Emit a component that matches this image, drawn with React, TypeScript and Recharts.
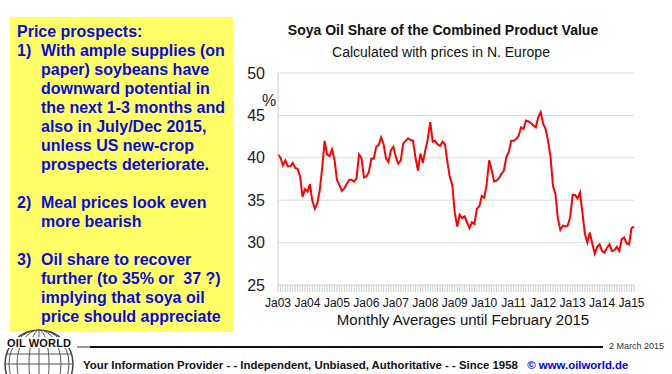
import { CartesianGrid, Line, LineChart, XAxis, YAxis } from "recharts";

// Soya oil share of combined product value, monthly Jan 2003 - Feb 2015 (%)
const yearLabels = [
  "Ja03", "Ja04", "Ja05", "Ja06", "Ja07", "Ja08", "Ja09",
  "Ja10", "Ja11", "Ja12", "Ja13", "Ja14", "Ja15",
];

const shareValues = [
  // 2003
  40.4, 40.0, 39.1, 39.7, 39.0, 39.0, 39.4, 38.8, 38.7, 37.8, 35.4, 36.3,
  // 2004
  36.0, 36.9, 34.9, 34.0, 34.6, 36.2, 38.8, 42.0, 40.4, 40.2, 41.0, 39.8,
  // 2005
  37.4, 36.8, 36.1, 36.4, 36.9, 37.4, 37.4, 37.2, 37.6, 40.4, 40.0, 37.7,
  // 2006
  37.8, 38.3, 39.9, 39.9, 41.3, 41.5, 42.4, 41.6, 39.9, 39.5, 40.9, 41.3,
  // 2007
  40.1, 39.3, 39.7, 41.7, 42.0, 42.3, 42.1, 42.0, 40.0, 38.5, 40.5, 39.4,
  // 2008
  40.9, 42.2, 44.2, 41.9, 42.0, 41.6, 41.4, 41.9, 41.6, 39.5, 37.7, 36.8,
  // 2009
  33.5, 31.9, 33.3, 32.9, 33.1, 32.4, 31.7, 32.4, 32.2, 34.0, 34.3, 35.5,
  // 2010
  35.3, 36.9, 39.7, 38.6, 37.2, 37.3, 37.6, 38.1, 38.5, 40.1, 40.7, 42.0,
  // 2011
  42.0, 42.2, 42.6, 43.6, 43.4, 44.4, 44.3, 44.1, 43.8, 43.6, 44.8, 45.4,
  // 2012
  44.0, 43.4, 42.0, 40.1, 36.7, 35.7, 32.8, 31.5, 32.0, 31.9, 32.0, 33.0,
  // 2013
  35.6, 35.6, 35.2, 35.9, 33.5, 31.0, 30.0, 31.2, 29.9, 28.7, 29.5, 29.8,
  // 2014
  29.0, 28.8, 29.4, 29.8, 29.0, 29.1, 29.5, 29.0, 30.4, 30.6, 29.9, 29.8,
  // 2015
  31.7, 31.9,
];

const yTicks = [25, 30, 35, 40, 45, 50];

const prospectLines: { num?: string; text: string }[] = [
  { text: "Price prospects:" },
  { num: "1)", text: "With ample supplies (on" },
  { text: "paper) soybeans have" },
  { text: "downward potential in" },
  { text: "the next 1-3 months and" },
  { text: "also in July/Dec 2015," },
  { text: "unless US new-crop" },
  { text: "prospects deteriorate." },
  { text: "" },
  { num: "2)", text: "Meal prices look even" },
  { text: "more bearish" },
  { text: "" },
  { num: "3)", text: "Oil share to recover" },
  { text: "further (to 35% or  37 ?)" },
  { text: "implying that soya oil" },
  { text: "price should appreciate" },
];

const FONT = "'Liberation Sans', Arial, sans-serif";

const chartData = shareValues.map((v, i) => ({ m: i, share: v }));
const monthTicks = chartData.map((d) => d.m);

function YearTick(props: any) {
  const { x, y, payload } = props;
  const m = payload.value;
  if (m % 12 !== 0) return <g />;
  return (
    <text
      x={x}
      y={y}
      dy={13}
      textAnchor="middle"
      fontSize={12}
      fontFamily={FONT}
      fill="#111"
    >
      {yearLabels[m / 12]}
    </text>
  );
}

function Logo() {
  const cx = 39;
  const cy = 364;
  const r = 34;
  return (
    <svg
      width={672}
      height={374}
      style={{ position: "absolute", left: 0, top: 0, pointerEvents: "none" }}
    >
      <defs>
        <clipPath id="globeClip">
          <circle cx={cx} cy={cy} r={r} />
        </clipPath>
      </defs>
      <circle cx={cx} cy={cy} r={r} fill="#fff" stroke="#444" strokeWidth={1.5} />
      <g clipPath="url(#globeClip)" stroke="#555" strokeWidth={1} fill="none">
        <ellipse cx={cx} cy={cy} rx={10} ry={r} />
        <ellipse cx={cx} cy={cy} rx={22} ry={r} />
        <ellipse cx={cx} cy={cy} rx={30} ry={r} />
        <line x1={cx} y1={cy - r} x2={cx} y2={cy + r} />
        <line x1={cx - r} y1={cy} x2={cx + r} y2={cy} />
        <line x1={cx - r} y1={cy - 10} x2={cx + r} y2={cy - 10} />
        <line x1={cx - r} y1={cy - 22} x2={cx + r} y2={cy - 22} />
      </g>
      <rect x={5} y={337} width={69} height={11} fill="#fff" />
      <text
        x={39}
        y={347}
        textAnchor="middle"
        fontSize={11}
        fontWeight="bold"
        fontFamily={FONT}
        textLength={64}
        fill="#111"
      >
        OIL WORLD
      </text>
      <line x1={77} y1={347} x2={90} y2={347} stroke="#999" strokeWidth={2} />
      <line x1={90} y1={347} x2={603} y2={347} stroke="#111" strokeWidth={2} />
    </svg>
  );
}

export default function App() {
  return (
    <div
      style={{
        position: "fixed",
        left: 0,
        top: 0,
        width: 672,
        height: 374,
        background: "#fff",
        fontFamily: FONT,
        overflow: "hidden",
      }}
    >
      <div style={{ position: "absolute", left: 0, top: 0 }}>
        <LineChart
          width={672}
          height={374}
          data={chartData}
          margin={{ top: 73, right: 38, left: 238, bottom: 59 }}
        >
          <CartesianGrid vertical={false} stroke="#dcdcdc" />
          <XAxis
            dataKey="m"
            type="number"
            domain={[0, 145]}
            ticks={monthTicks}
            interval={0}
            height={30}
            tick={<YearTick />}
            tickSize={7}
            tickLine={{ stroke: "#cfcfcf" }}
            axisLine={{ stroke: "#dcdcdc" }}
          />
          <YAxis
            type="number"
            domain={[25, 50]}
            ticks={yTicks}
            width={40}
            tickLine={false}
            tickMargin={7}
            axisLine={{ stroke: "#d0d0d0" }}
            tick={{ fontSize: 16, fill: "#222", fontFamily: FONT }}
          />
          <Line
            type="linear"
            dataKey="share"
            stroke="#ff0000"
            strokeWidth={2}
            dot={false}
            isAnimationActive={false}
          />
        </LineChart>
      </div>

      <div
        style={{
          position: "absolute",
          left: 262,
          top: 92,
          fontSize: 16,
          color: "#222",
        }}
      >
        %
      </div>

      <div
        style={{
          position: "absolute",
          left: 240,
          width: 406,
          top: 22,
          textAlign: "center",
          fontSize: 14,
          fontWeight: "bold",
          color: "#111",
        }}
      >
        Soya Oil Share of the Combined Product Value
      </div>
      <div
        style={{
          position: "absolute",
          left: 240,
          width: 402,
          top: 44,
          textAlign: "center",
          fontSize: 14,
          color: "#111",
        }}
      >
        Calculated with prices in N. Europe
      </div>
      <div
        style={{
          position: "absolute",
          left: 260,
          width: 406,
          top: 311,
          textAlign: "center",
          fontSize: 15,
          color: "#111",
        }}
      >
        Monthly Averages until February 2015
      </div>

      <div
        style={{
          position: "absolute",
          left: 10,
          top: 17,
          width: 223,
          height: 315,
          background: "#ffff66",
        }}
      >
        {prospectLines.map((l, i) => (
          <div
            key={i}
            style={{
              position: "absolute",
              top: 5 + i * 19,
              left: l.num || i === 0 ? 7 : 31,
              height: 19,
              lineHeight: "19px",
              fontSize: 16,
              fontWeight: "bold",
              color: "#0a0adf",
              whiteSpace: "pre",
            }}
          >
            {l.num ? (
              <>
                <span style={{ display: "inline-block", width: 24 }}>{l.num}</span>
                {l.text}
              </>
            ) : (
              l.text
            )}
          </div>
        ))}
      </div>

      <Logo />

      <div
        style={{
          position: "absolute",
          left: 609,
          top: 341,
          fontSize: 9,
          color: "#333",
          whiteSpace: "nowrap",
        }}
      >
        2 March 2015
      </div>
      <div
        style={{
          position: "absolute",
          left: 83,
          top: 359,
          fontSize: 11.4,
          fontWeight: "bold",
          color: "#111",
          whiteSpace: "pre",
        }}
      >
        Your Information Provider - - Independent, Unbiased, Authoritative - - Since 1958
        <span style={{ color: "#0000ee" }}>{"   © www.oilworld.de"}</span>
      </div>
    </div>
  );
}
